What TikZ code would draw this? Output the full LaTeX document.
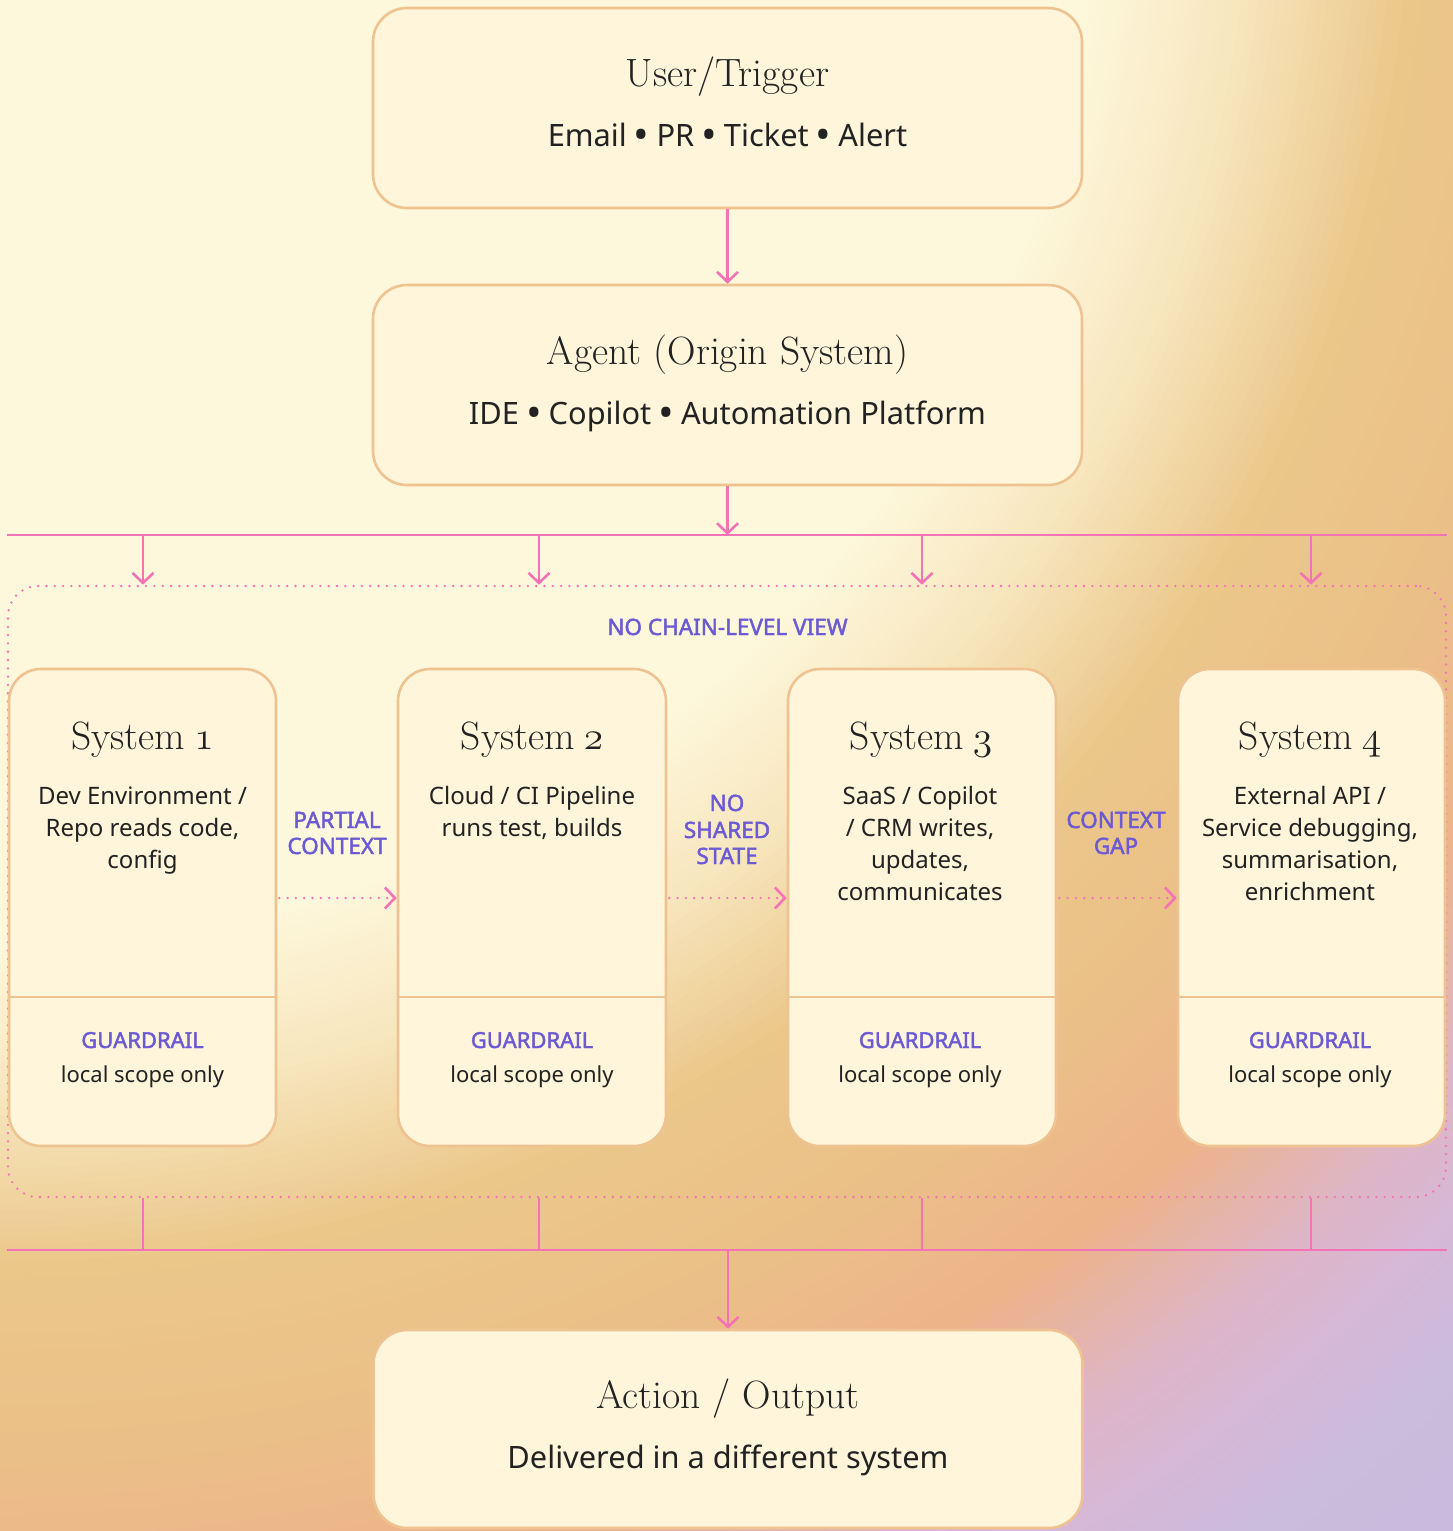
\documentclass[tikz,border=0pt]{standalone}
\usepackage{fontspec}
\setsansfont{Noto Sans}
\newfontfamily\tagfont{Noto Sans}[FakeBold=2]
\usetikzlibrary{arrows.meta}

\definecolor{pinkline}{HTML}{F472B6}
\definecolor{purp}{HTML}{6B5AD4}
\definecolor{boxborder}{HTML}{EFC291}
\definecolor{boxfill}{HTML}{FEF5DA}
\definecolor{ink}{HTML}{222222}
\definecolor{bga}{HTML}{FDF7DB}
\definecolor{bgb}{HTML}{F7E6BE}
\definecolor{bgc}{HTML}{EBC78A}
\definecolor{bgd}{HTML}{EBC088}
\definecolor{bge}{HTML}{EDB38A}
\definecolor{bgf}{HTML}{DEB5C4}
\definecolor{bgg}{HTML}{D6B8D8}
\definecolor{bgh}{HTML}{CBBBDD}
\definecolor{bgi}{HTML}{C8BBDE}

\font\osfont=cmmi12 at 39.5pt
\newcommand{\osnum}[1]{{\osfont #1}}
\newcommand{\bul}{\hspace{7pt}\raisebox{-3.3pt}{\scalebox{1.35}{•}}\hspace{7pt}}

\tikzset{
  bigbox/.style={draw=boxborder, line width=2.6pt, fill=boxfill, rounded corners=34pt,
    minimum width=709pt, minimum height=200pt, inner sep=0pt},
  sysbox/.style={draw=boxborder, line width=2.6pt, fill=boxfill, rounded corners=32pt,
    minimum width=267pt, minimum height=477pt, inner sep=0pt},
  chainbox/.style={draw=pinkline, line width=2.6pt, line cap=round,
    dash pattern=on 0pt off 8.3pt, rounded corners=30pt,
    minimum width=1438pt, minimum height=611pt, inner sep=0pt},
  conn/.style={draw=pinkline, line width=2.6pt},
  arr/.style={conn, -{Straight Barb[length=10pt,width=21pt]}},
  dotarr/.style={draw=pinkline, line width=2.6pt, line cap=round,
    dash pattern=on 0pt off 8.3pt, -{Straight Barb[length=10pt,width=21pt]}},
  divline/.style={draw=boxborder, line width=2.6pt},
  ttl/.style={font=\fontsize{39.5}{46}\selectfont\addfontfeature{FakeBold=1.1}, text=ink, inner sep=0pt, anchor=base},
  sub/.style={font=\sffamily\fontsize{30.8}{36}\selectfont, text=ink, inner sep=0pt, anchor=base},
  desc/.style={font=\sffamily\fontsize{24}{30}\selectfont, text=ink, inner sep=0pt, anchor=base},
  tag/.style={font=\tagfont\fontsize{22.5}{26}\selectfont, text=purp, inner sep=0pt, anchor=base},
  grd/.style={font=\tagfont\fontsize{22}{26}\selectfont, text=purp, inner sep=0pt, anchor=base},
  loc/.style={font=\sffamily\fontsize{22}{26}\selectfont, text=ink, inner sep=0pt, anchor=base},
}

\begin{document}
\begin{tikzpicture}[x=1pt,y=-1pt]
\useasboundingbox (0,0) rectangle (1453,1531);
% background: radial gradient from the top-left, built from concentric discs
\begin{scope}
  \clip (0,0) rectangle (1453,1531);
  \fill[bgi] (0,0) rectangle (1453,1531);
  \foreach \ra/\rb/\ca/\cb in {2100/2250/bgh/bgi, 2000/2100/bgg/bgh, 1900/2000/bgf/bgg,
      1760/1900/bge/bgf, 1600/1760/bgd/bge, 1420/1600/bgc/bgd, 1250/1420/bgb/bgc,
      1100/1250/bga/bgb} {
    \foreach \t in {100,95,...,0} {
      \pgfmathsetmacro\rr{\ra+(\rb-\ra)*0.01*\t}
      \fill[fill={\cb!\t!\ca}] (0,-150) circle[radius=\rr pt];
    }
  }
\end{scope}

% top boxes
\node[bigbox] (trig) at (727.5,108) {};
\node[ttl] (trigT) at (727.5,86) {User/Trigger};
\node[sub] (trigS) at (727.5,146) {Email\bul PR\bul Ticket\bul Alert};

\node[bigbox] (agent) at (727.5,385) {};
\node[ttl] (agentT) at (727.5,364) {Agent (Origin System)};
\node[sub] (agentS) at (727.5,424) {IDE\bul Copilot\bul Automation Platform};

\node[bigbox, minimum height=198pt] (out) at (728,1429) {};
\node[ttl] (outT) at (728,1408) {Action / Output};
\node[sub] (outS) at (728,1468) {Delivered in a different system};

\draw[arr] (trig.south) -- (agent.north);

% chain boundary
\node[chainbox] (chain) at (727,891.5) {};
\node[tag] (nochain) at (727.5,635) {NO CHAIN-LEVEL VIEW};

% top bus
\coordinate (btl) at (7,535);
\coordinate (btr) at (1447,535);
\draw[conn] (btl) -- (btr);
\draw[arr] (agent.south) -- (agent.south |- btl);

% bottom bus
\coordinate (bbl) at (7,1250);
\coordinate (bbr) at (1447,1250);
\coordinate (bbm) at (728,1250);
\draw[conn] (bbl) -- (bbr);
\draw[arr] (bbm) -- (out.north);

\foreach \x [count=\k] in {143,539,922,1311} {
  \coordinate (dt\k) at (\x,535);
  \draw[arr] (dt\k) -- (dt\k |- chain.north);
  \coordinate (db\k) at (\x,1250);
  \draw[conn] (chain.south -| db\k) -- (db\k);
}

% system boxes
\node[sysbox] (s1) at (142.5,907.5) {};
\node[sysbox, minimum width=268pt] (s2) at (532,907.5) {};
\node[sysbox, minimum width=268pt] (s3) at (922,907.5) {};
\node[sysbox] (s4) at (1311.5,907.5) {};

\coordinate (dv) at (0,997);
\foreach \s in {s1,s2,s3,s4} {
  \draw[divline] (\s.west |- dv) -- (\s.east |- dv);
}

% system 1
\node[ttl] (s1t) at (142.5,749) {System\hspace{9pt}\osnum{1}};
\node[desc] (s1a) at (142.5,804) {Dev Environment /};
\node[desc] (s1b) at (142.5,836) {Repo reads code,};
\node[desc] (s1c) at (142.5,868) {config};
\node[grd] (s1g) at (142.5,1048) {GUARDRAIL};
\node[loc] (s1l) at (142.5,1082) {local scope only};

% system 2
\node[ttl] (s2t) at (532,749) {System\hspace{9pt}\osnum{2}};
\node[desc] (s2a) at (532,804) {Cloud / CI Pipeline};
\node[desc] (s2b) at (532,836) {runs test, builds};
\node[grd] (s2g) at (532,1048) {GUARDRAIL};
\node[loc] (s2l) at (532,1082) {local scope only};

% system 3
\node[ttl] (s3t) at (921,749) {System\hspace{9pt}\osnum{3}};
\node[desc] (s3a) at (920,804) {SaaS / Copilot};
\node[desc] (s3b) at (920,836) {/ CRM writes,};
\node[desc] (s3c) at (920,868) {updates,};
\node[desc] (s3d) at (920,900) {communicates};
\node[grd] (s3g) at (920,1048) {GUARDRAIL};
\node[loc] (s3l) at (920,1082) {local scope only};

% system 4
\node[ttl] (s4t) at (1310,749) {System\hspace{9pt}\osnum{4}};
\node[desc] (s4a) at (1310,804) {External API /};
\node[desc] (s4b) at (1310,836) {Service debugging,};
\node[desc] (s4c) at (1310,868) {summarisation,};
\node[desc] (s4d) at (1310,900) {enrichment};
\node[grd] (s4g) at (1310,1048) {GUARDRAIL};
\node[loc] (s4l) at (1310,1082) {local scope only};

% gap labels
\node[tag] (pc1) at (337,828) {PARTIAL};
\node[tag] (pc2) at (337,854) {CONTEXT};
\node[tag] (ns1) at (727,811) {NO};
\node[tag] (ns2) at (727,838) {SHARED};
\node[tag] (ns3) at (727,864) {STATE};
\node[tag] (cg1) at (1116,828) {CONTEXT};
\node[tag] (cg2) at (1116,854) {GAP};

% dotted arrows
\coordinate (da) at (0,898);
\draw[dotarr] ([xshift=2pt]s1.east |- da) -- (s2.west |- da);
\draw[dotarr] ([xshift=2pt]s2.east |- da) -- (s3.west |- da);
\draw[dotarr] ([xshift=2pt]s3.east |- da) -- (s4.west |- da);
\end{tikzpicture}
\end{document}
